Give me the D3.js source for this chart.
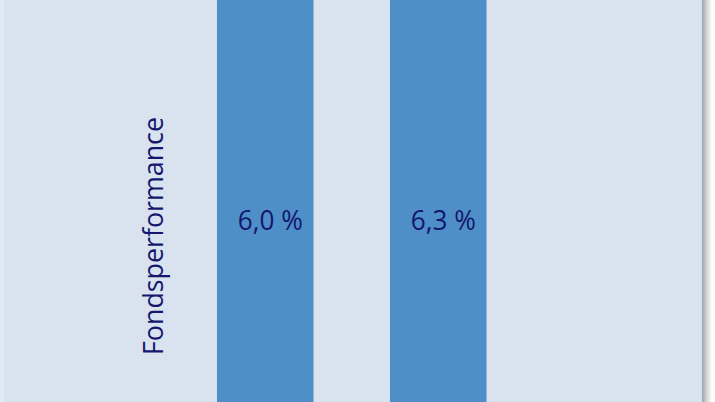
<!DOCTYPE html>
<html>
<head>
<meta charset="utf-8">
<script src="https://cdn.jsdelivr.net/npm/d3@7"></script>
<style>
  html, body { margin: 0; padding: 0; background: #ffffff; }
  svg { display: block; }
</style>
</head>
<body>
<div id="chart"></div>
<script>
// ---- data ----
const categories = ["A", "B"];
const values = [6.0, 6.3];
const valueLabels = ["6,0 %", "6,3 %"];
const axisTitle = "Fondsperformance";

const W = 715, H = 402;
const svg = d3.select("#chart").append("svg")
  .attr("width", W).attr("height", H);

const defs = svg.append("defs");
const grad = defs.append("linearGradient").attr("id", "shadow")
  .attr("x1", "0%").attr("x2", "100%").attr("y1", "0%").attr("y2", "0%");
grad.append("stop").attr("offset", "0%").attr("stop-color", "#a2a2a2");
grad.append("stop").attr("offset", "45%").attr("stop-color", "#d2d2d2");
grad.append("stop").attr("offset", "100%").attr("stop-color", "#ffffff");
defs.append("clipPath").attr("id", "plotclip")
  .append("rect").attr("x", 0).attr("y", 0).attr("width", 702).attr("height", H);

// panel + edges
svg.append("rect").attr("x", 702).attr("y", 0).attr("width", 10).attr("height", H)
  .attr("fill", "url(#shadow)");
svg.append("rect").attr("x", 0).attr("y", 0).attr("width", 702).attr("height", H)
  .attr("fill", "#d8e3ef");
svg.append("rect").attr("x", 0).attr("y", 0).attr("width", 4).attr("height", H)
  .attr("fill", "#dce9f6");
svg.append("rect").attr("x", 700).attr("y", 0).attr("width", 2).attr("height", H)
  .attr("fill", "#d0e3f4");

// scales: the visible window is a crop of taller bars
const x = d3.scaleBand().domain(categories).range([130.5, 573])
  .paddingInner(0.442).paddingOuter(0.5);
const y = d3.scaleLinear().domain([2, 5]).range([H, 0]);

const g = svg.append("g").attr("clip-path", "url(#plotclip)");
g.selectAll("rect.bar").data(values).join("rect")
  .attr("class", "bar")
  .attr("x", (d, i) => x(categories[i]))
  .attr("width", x.bandwidth())
  .attr("y", d => y(d))
  .attr("height", d => y(0) - y(d))
  .attr("fill", "#4f8fc8");

g.selectAll("text.val").data(values).join("text")
  .attr("class", "val")
  .attr("x", (d, i) => x(categories[i]) + x.bandwidth() / 2 + 5)
  .attr("y", 230)
  .attr("text-anchor", "middle")
  .attr("font-family", "'Open Sans', sans-serif")
  .attr("font-size", 28)
  .attr("fill", "#15166e")
  .attr("textLength", 65)
  .attr("lengthAdjust", "spacingAndGlyphs")
  .text((d, i) => valueLabels[i]);

svg.append("text")
  .attr("transform", "translate(163,236) rotate(-90)")
  .attr("text-anchor", "middle")
  .attr("font-family", "'Open Sans', sans-serif")
  .attr("font-size", 28)
  .attr("fill", "#15166e")
  .attr("textLength", 238)
  .attr("lengthAdjust", "spacingAndGlyphs")
  .text(axisTitle);
</script>
</body>
</html>
